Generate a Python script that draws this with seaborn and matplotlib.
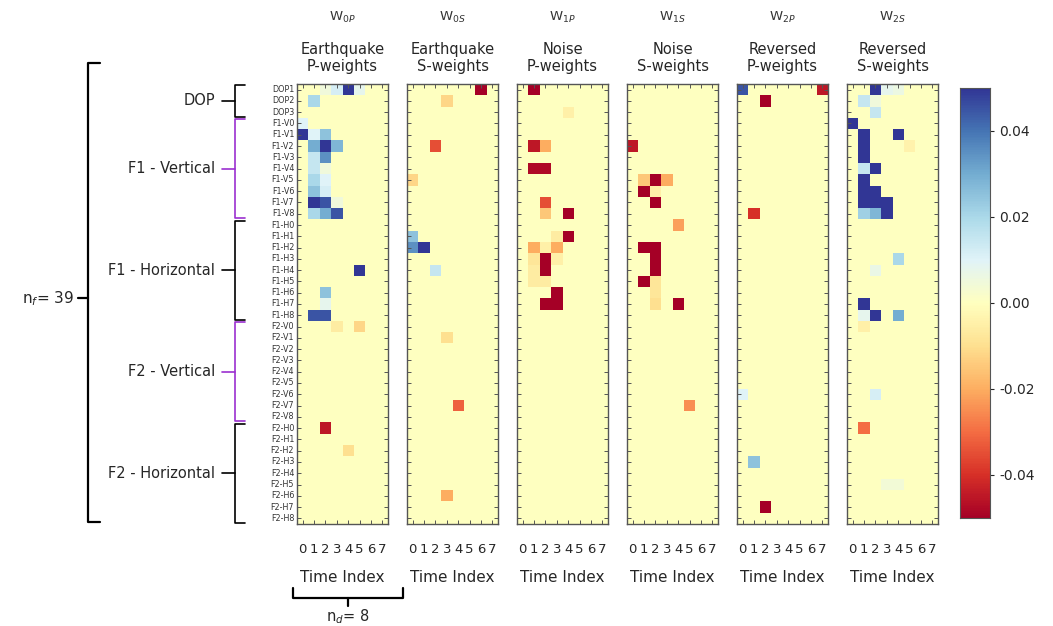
import numpy as np
import pandas as pd
import matplotlib
matplotlib.use('Agg')
import matplotlib.pyplot as plt
import seaborn as sns

sns.set_style('white')
plt.rcParams['font.family'] = ['DejaVu Sans']

# linhas / colunas das matrizes de pesos
row_labels = (['DOP1', 'DOP2', 'DOP3']
              + ['F1-V%d' % i for i in range(9)]
              + ['F1-H%d' % i for i in range(9)]
              + ['F2-V%d' % i for i in range(9)]
              + ['F2-H%d' % i for i in range(9)])
time_index = [str(i) for i in range(8)]

panel_names = ['W$_{0P}$', 'W$_{0S}$', 'W$_{1P}$', 'W$_{1S}$', 'W$_{2P}$', 'W$_{2S}$']
panel_titles = ['Earthquake\nP-weights', 'Earthquake\nS-weights', 'Noise\nP-weights',
                'Noise\nS-weights', 'Reversed\nP-weights', 'Reversed\nS-weights']

# celulas nao nulas: (linha, coluna de tempo, peso)
w0p = [('DOP1', 2, 0.005), ('DOP1', 3, 0.012), ('DOP1', 4, 0.05), ('DOP1', 5, 0.008),
       ('DOP2', 1, 0.02), ('F1-V0', 0, 0.01),
       ('F1-V1', 0, 0.05), ('F1-V1', 1, 0.01), ('F1-V1', 2, 0.025),
       ('F1-V2', 1, 0.03), ('F1-V2', 2, 0.05), ('F1-V2', 3, 0.028),
       ('F1-V3', 1, 0.015), ('F1-V3', 2, 0.035),
       ('F1-V4', 1, 0.015), ('F1-V4', 2, 0.005),
       ('F1-V5', 1, 0.02), ('F1-V5', 2, 0.01),
       ('F1-V6', 1, 0.025), ('F1-V6', 2, 0.012),
       ('F1-V7', 1, 0.05), ('F1-V7', 2, 0.045), ('F1-V7', 3, 0.005),
       ('F1-V8', 1, 0.02), ('F1-V8', 2, 0.03), ('F1-V8', 3, 0.045),
       ('F1-H4', 5, 0.05), ('F1-H6', 2, 0.025), ('F1-H7', 2, 0.008),
       ('F1-H8', 1, 0.045), ('F1-H8', 2, 0.045),
       ('F2-V0', 3, -0.006), ('F2-V0', 5, -0.012),
       ('F2-H0', 2, -0.045), ('F2-H2', 4, -0.01)]
w0s = [('DOP1', 6, -0.05), ('DOP2', 3, -0.012), ('F1-V2', 2, -0.035), ('F1-V5', 0, -0.012),
       ('F1-H1', 0, 0.025), ('F1-H2', 0, 0.035), ('F1-H2', 1, 0.05), ('F1-H4', 2, 0.015),
       ('F2-V1', 3, -0.01), ('F2-V7', 4, -0.032), ('F2-H6', 3, -0.02)]
w1p = [('DOP1', 1, -0.05), ('DOP3', 4, -0.005),
       ('F1-V2', 1, -0.045), ('F1-V2', 2, -0.02),
       ('F1-V4', 1, -0.048), ('F1-V4', 2, -0.048),
       ('F1-V7', 2, -0.035), ('F1-V8', 2, -0.015), ('F1-V8', 4, -0.05),
       ('F1-H1', 3, -0.006), ('F1-H1', 4, -0.05),
       ('F1-H2', 1, -0.02), ('F1-H2', 2, -0.005), ('F1-H2', 3, -0.02),
       ('F1-H3', 1, -0.008), ('F1-H3', 2, -0.05), ('F1-H3', 3, -0.005),
       ('F1-H4', 1, -0.006), ('F1-H4', 2, -0.05),
       ('F1-H5', 1, -0.006), ('F1-H5', 2, -0.006),
       ('F1-H6', 3, -0.05), ('F1-H7', 2, -0.05), ('F1-H7', 3, -0.05)]
w1s = [('F1-V2', 0, -0.045),
       ('F1-V5', 1, -0.015), ('F1-V5', 2, -0.05), ('F1-V5', 3, -0.02),
       ('F1-V6', 1, -0.05), ('F1-V6', 2, -0.005), ('F1-V7', 2, -0.05),
       ('F1-H0', 4, -0.022),
       ('F1-H2', 1, -0.05), ('F1-H2', 2, -0.05), ('F1-H3', 2, -0.05), ('F1-H4', 2, -0.05),
       ('F1-H5', 1, -0.05), ('F1-H5', 2, -0.008), ('F1-H6', 2, -0.008),
       ('F1-H7', 2, -0.01), ('F1-H7', 4, -0.05), ('F2-V7', 5, -0.025)]
w2p = [('DOP1', 0, 0.045), ('DOP1', 7, -0.045), ('DOP2', 2, -0.05), ('F1-V8', 1, -0.04),
       ('F2-V6', 0, 0.01), ('F2-H3', 1, 0.025), ('F2-H7', 2, -0.05)]
w2s = [('DOP1', 2, 0.05), ('DOP1', 3, 0.008), ('DOP1', 4, 0.006),
       ('DOP2', 1, 0.015), ('DOP2', 2, 0.005), ('DOP3', 2, 0.015),
       ('F1-V0', 0, 0.05), ('F1-V1', 1, 0.05), ('F1-V1', 4, 0.05),
       ('F1-V2', 1, 0.05), ('F1-V2', 5, -0.004), ('F1-V3', 1, 0.05),
       ('F1-V4', 1, 0.015), ('F1-V4', 2, 0.05), ('F1-V5', 1, 0.05),
       ('F1-V6', 1, 0.05), ('F1-V6', 2, 0.05),
       ('F1-V7', 1, 0.05), ('F1-V7', 2, 0.05), ('F1-V7', 3, 0.05),
       ('F1-V8', 1, 0.022), ('F1-V8', 2, 0.028), ('F1-V8', 3, 0.05),
       ('F1-H3', 4, 0.02), ('F1-H4', 2, 0.007), ('F1-H7', 1, 0.05),
       ('F1-H8', 1, 0.008), ('F1-H8', 2, 0.05), ('F1-H8', 4, 0.03),
       ('F2-V0', 1, -0.005), ('F2-V6', 2, 0.012), ('F2-H0', 1, -0.03),
       ('F2-H5', 3, 0.004), ('F2-H5', 4, 0.004)]
panels = [w0p, w0s, w1p, w1s, w2p, w2s]

# grupos de linhas para as chaves da esquerda
groups = [('DOP', 0, 3, 'black'), ('F1 - Vertical', 3, 12, '#9b30d0'),
          ('F1 - Horizontal', 12, 21, 'black'), ('F2 - Vertical', 21, 30, '#9b30d0'),
          ('F2 - Horizontal', 30, 39, 'black')]


def to_frame(cells):
    df = pd.DataFrame(0.0, index=row_labels, columns=time_index)
    for r, c, v in cells:
        df.loc[r, time_index[c]] = v
    return df


W, H = 1053, 626
fig = plt.figure(figsize=(W / 100, H / 100), dpi=100)
cbar_ax = fig.add_axes([960 / W, 1 - 518 / H, 30 / W, 430 / H])
edge = '#555555'

axes = []
for k, cells in enumerate(panels):
    left = 297 + 110 * k
    ax = fig.add_axes([left / W, 1 - 524 / H, 91 / W, 440 / H])
    sns.heatmap(to_frame(cells), ax=ax, cmap='RdYlBu', vmin=-0.05, vmax=0.05,
                cbar=(k == 0), cbar_ax=cbar_ax if k == 0 else None,
                cbar_kws={'ticks': [-0.04, -0.02, 0, 0.02, 0.04], 'format': '%.2f'},
                xticklabels=time_index, yticklabels=row_labels)
    ax.set_axisbelow(False)
    for s in ax.spines.values():
        s.set_visible(True)
        s.set_color(edge)
        s.set_linewidth(1.0)
    ax.tick_params(axis='both', which='major', direction='in', top=True, right=True,
                   left=True, bottom=True, length=3, width=0.7, color=edge)
    ax.tick_params(axis='x', labelsize=9.5, pad=14, rotation=0)
    ax.tick_params(axis='y', labelsize=5.8, pad=2, labelcolor='#333333', rotation=0)
    if k > 0:
        ax.tick_params(axis='y', labelleft=False)
    ax.set_xlabel('Time Index', fontsize=11, labelpad=10)
    ax.set_ylabel('')
    ax.text(0.5, 1.022, panel_titles[k], transform=ax.transAxes, ha='center',
            va='bottom', fontsize=10.5, linespacing=1.2)
    ax.text(0.5, 1.152, panel_names[k], transform=ax.transAxes, ha='center',
            va='center', fontsize=9.5, color='#333333')
    axes.append(ax)

cbar_ax.tick_params(labelsize=10, length=3)
for s in cbar_ax.spines.values():
    s.set_visible(True)
    s.set_color(edge)

# chaves da esquerda (x em fracao do eixo, y em linhas)
ax0 = axes[0]
tr = ax0.get_yaxis_transform()
for name, r0, r1, col in groups:
    xv, xe, xm = -0.68, -0.57, -0.82
    ax0.plot([xe, xv, xv, xe], [r0 + 0.1, r0 + 0.1, r1 - 0.1, r1 - 0.1], color=col,
             lw=1.2, transform=tr, clip_on=False)
    mid = (r0 + r1) / 2
    ax0.plot([xm, xv], [mid, mid], color=col, lw=1.2, transform=tr, clip_on=False)
    ax0.text(-0.9, mid, name, transform=tr, ha='right', va='center', fontsize=10.5)

# chave grande n_f
ax0.plot([-2.16, -2.30, -2.30, -2.16], [-1.9, -1.9, 38.8, 38.8], color='black',
         lw=1.6, transform=tr, clip_on=False)
ax0.plot([-2.41, -2.30], [19, 19], color='black', lw=1.6, transform=tr, clip_on=False)
ax0.text(-2.45, 19, 'n$_f$= 39', transform=tr, ha='right', va='center', fontsize=11)

# chave de baixo n_d
ax0.plot([-0.04, -0.04, 1.16, 1.16], [-0.145, -0.168, -0.168, -0.145], color='black',
         lw=1.6, transform=ax0.transAxes, clip_on=False)
ax0.plot([0.56, 0.56], [-0.168, -0.186], color='black', lw=1.6,
         transform=ax0.transAxes, clip_on=False)
ax0.text(0.56, -0.21, 'n$_d$= 8', transform=ax0.transAxes, ha='center', va='center',
         fontsize=10.5)

fig.savefig('out.png', dpi=100)
